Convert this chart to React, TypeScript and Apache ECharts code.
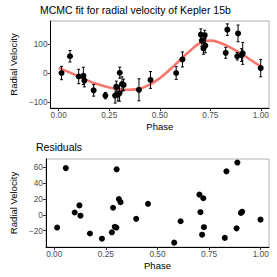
import React, { useEffect, useRef } from "react";
import * as echarts from "echarts";

// Observed radial velocities (top panel)
const phase = [0.014, 0.056, 0.099, 0.122, 0.127, 0.173, 0.231, 0.279, 0.285, 0.293, 0.301, 0.302, 0.313, 0.321, 0.397, 0.454, 0.581, 0.612, 0.703, 0.708, 0.716, 0.722, 0.725, 0.826, 0.834, 0.883, 0.887, 0.904, 0.910, 0.999];
const rv = [0, 58, -12, -10, -26, -60, -78, -78, -47, -75, -70, 1, -38, -41, -58, -24, 0, 47, 133, 112, 85, 131, 95, 70, 150, 58, 137, 62, 68, 17];
const rvErr = [23, 20, 25, 30, 22, 20, 11, 26, 19, 22, 27, 19, 25, 20, 38, 29, 22, 26, 20, 20, 20, 17, 25, 19, 20, 13, 29, 22, 38, 30];
// Residuals (bottom panel)
const residual = [-16, 59, 3, 12, -1, -23.5, -30, -22, 9, -15, -16, 57.5, 20, 16, -5, 14, -35, -8, 25.6, 3.4, -25, 21, -15.5, -29, 55, -17, 66, 2.5, 4, -6];
// Fitted curve
const curvePhase = [0, 0.05, 0.1, 0.15, 0.2, 0.25, 0.3, 0.35, 0.4, 0.45, 0.5, 0.55, 0.6, 0.65, 0.7, 0.75, 0.8, 0.85, 0.9, 0.95, 1.0];
const curveRv = [18, 3, -12, -28, -40, -50, -56, -58, -54, -40, -18, 12, 45, 77, 104, 112, 104, 88, 68, 45, 22];
// Ticks
const xTicks = [0, 0.25, 0.5, 0.75, 1];
const yTicksTop = [-100, 0, 100];
const yTicksBottom = [-20, 0, 20, 40, 60];

const FONT = "Liberation Sans, Arial, sans-serif";

export default function App() {
  const ref = useRef<HTMLDivElement>(null);
  useEffect(() => {
    if (!ref.current) return;
    const chart = echarts.init(ref.current, undefined, { renderer: "svg" });
    const fmtNum = (v: number) => (v < 0 ? "\u2212" + Math.abs(v) : String(v));
    const xAxisBase = (gridIndex: number) => ({
      type: "value",
      gridIndex,
      min: -0.04,
      max: 1.04,
      name: "Phase",
      nameLocation: "middle",
      nameGap: 13,
      nameTextStyle: { fontFamily: FONT, fontSize: 9.5, color: "#000" },
      splitLine: { show: false },
      axisLine: { show: true, onZero: false, lineStyle: { color: "#000", width: 1 } },
      axisTick: { show: true, length: 3, lineStyle: { color: "#333" }, customValues: xTicks },
      axisLabel: {
        fontFamily: FONT, fontSize: 8.3, color: "#4D4D4D", margin: 3,
        customValues: xTicks,
        formatter: (v: number) => v.toFixed(2),
      },
    });
    const yAxisBase = (gridIndex: number, min: number, max: number, ticks: number[], gap: number) => ({
      type: "value",
      gridIndex,
      min,
      max,
      name: "Radial Velocity",
      nameLocation: "middle",
      nameGap: gap,
      nameTextStyle: { fontFamily: FONT, fontSize: 9.5, color: "#000" },
      splitLine: { show: false },
      axisLine: { show: true, onZero: false, lineStyle: { color: "#000", width: 1 } },
      axisTick: { show: true, length: 3, lineStyle: { color: "#333" }, customValues: ticks },
      axisLabel: {
        fontFamily: FONT, fontSize: 8.3, color: "#4D4D4D", margin: 3,
        customValues: ticks,
        formatter: fmtNum,
      },
    });
    const errData = phase.map((p, i) => [p, rv[i], rvErr[i]]);
    chart.setOption({
      animation: false,
      title: [
        { text: "MCMC fit for radial velocity of Kepler 15b", left: 40, top: 4, padding: 0,
          textStyle: { fontFamily: FONT, fontSize: 10.5, fontWeight: "normal", color: "#000" } },
        { text: "Residuals", left: 36, top: 141.5, padding: 0,
          textStyle: { fontFamily: FONT, fontSize: 10.5, fontWeight: "normal", color: "#000" } },
      ],
      grid: [
        { left: 41, right: 8, top: 21, height: 87, show: true, borderColor: "#b0b0b0", borderWidth: 1, backgroundColor: "transparent" },
        { left: 36, right: 8, top: 159, height: 88, show: true, borderColor: "#b0b0b0", borderWidth: 1, backgroundColor: "transparent" },
      ],
      xAxis: [xAxisBase(0), xAxisBase(1)],
      yAxis: [
        yAxisBase(0, -121, 180, yTicksTop, 26),
        yAxisBase(1, -40.5, 70.5, yTicksBottom, 21),
      ],
      series: [
        {
          type: "line",
          xAxisIndex: 0, yAxisIndex: 0,
          data: curvePhase.map((p, i) => [p, curveRv[i]]),
          smooth: true,
          showSymbol: false,
          lineStyle: { color: "#F8766D", width: 2.6 },
          z: 2,
        },
        {
          type: "custom",
          xAxisIndex: 0, yAxisIndex: 0,
          data: errData,
          z: 3,
          renderItem: (params: any, api: any) => {
            const x = api.value(0), y = api.value(1), e = api.value(2);
            const top = api.coord([x, y + e]);
            const bot = api.coord([x, y - e]);
            const cap = 1.5;
            const style = { stroke: "#000", lineWidth: 1 };
            return {
              type: "group",
              children: [
                { type: "line", shape: { x1: top[0], y1: top[1], x2: bot[0], y2: bot[1] }, style },
                { type: "line", shape: { x1: top[0] - cap, y1: top[1], x2: top[0] + cap, y2: top[1] }, style },
                { type: "line", shape: { x1: bot[0] - cap, y1: bot[1], x2: bot[0] + cap, y2: bot[1] }, style },
              ],
            };
          },
        },
        {
          type: "scatter",
          xAxisIndex: 0, yAxisIndex: 0,
          data: phase.map((p, i) => [p, rv[i]]),
          symbolSize: 6,
          itemStyle: { color: "#000", opacity: 1 },
          z: 4,
        },
        {
          type: "scatter",
          xAxisIndex: 1, yAxisIndex: 1,
          data: phase.map((p, i) => [p, residual[i]]),
          symbolSize: 6,
          itemStyle: { color: "#000", opacity: 1 },
          z: 4,
        },
      ],
    });
    return () => chart.dispose();
  }, []);
  return <div ref={ref} style={{ width: 277, height: 277, position: "absolute", left: 0, top: 0 }} />;
}
